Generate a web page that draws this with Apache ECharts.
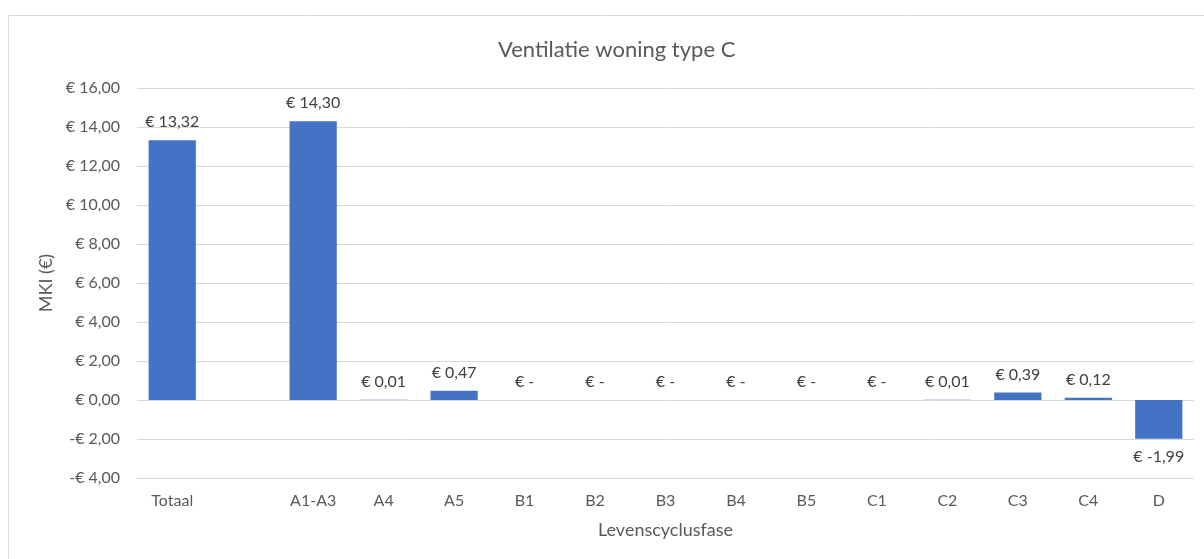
<!DOCTYPE html>
<html>
<head>
<meta charset="utf-8">
<script src="https://cdn.jsdelivr.net/npm/echarts@6/dist/echarts.min.js"></script>
<style>
  html, body { margin: 0; padding: 0; background: #fff; }
  #chart { width: 1204px; height: 559px; }
</style>
</head>
<body>
<div id="chart"></div>
<script>
// levenscyclusfasen (lege kolom tussen Totaal en A1-A3)
var categories = ['Totaal', '', 'A1-A3', 'A4', 'A5', 'B1', 'B2', 'B3', 'B4', 'B5', 'C1', 'C2', 'C3', 'C4', 'D'];
var mki = [13.32, null, 14.30, 0.01, 0.47, 0, 0, 0, 0, 0, 0, 0.01, 0.39, 0.12, -1.99];
var yTicks = [-4, -2, 0, 2, 4, 6, 8, 10, 12, 14, 16];

function euro(v) {
  return v.toFixed(2).replace('.', ',');
}

var chartDom = document.getElementById('chart');
var myChart = echarts.init(chartDom);
var option;

option = {
  backgroundColor: '#fff',
  animation: false,
  textStyle: { fontFamily: 'Lato' },
  graphic: [{
    type: 'rect',
    shape: { x: 8.5, y: 15.5, width: 1210, height: 560 },
    style: { fill: 'none', stroke: '#d9d9d9', lineWidth: 1 },
    silent: true
  }],
  title: {
    text: 'Ventilatie woning type C',
    left: 493,
    top: 34,
    textStyle: { color: '#595959', fontSize: 22, fontWeight: 'normal', fontFamily: 'Lato' }
  },
  grid: {
    top: 88,
    bottom: 81,
    left: 137,
    right: 10
  },
  xAxis: {
    type: 'category',
    data: categories,
    name: 'Levenscyclusfase',
    nameLocation: 'middle',
    nameGap: 43,
    nameTextStyle: { color: '#595959', fontSize: 18 },
    axisLine: { show: false },
    axisTick: { show: false },
    axisLabel: { color: '#595959', fontSize: 16, interval: 0, margin: 15 }
  },
  yAxis: {
    type: 'value',
    min: yTicks[0],
    max: yTicks[yTicks.length - 1],
    interval: 2,
    name: 'MKI (€)',
    nameLocation: 'middle',
    nameGap: 82,
    nameTextStyle: { color: '#595959', fontSize: 18 },
    axisLine: { show: false },
    axisTick: { show: false },
    splitLine: { lineStyle: { color: '#d9d9d9', width: 1 } },
    axisLabel: {
      color: '#595959',
      fontSize: 16,
      margin: 17,
      formatter: function (v) {
        return v < 0 ? '-€ ' + euro(-v) : '€ ' + euro(v);
      }
    }
  },
  series: [{
    type: 'bar',
    barWidth: '67%',
    itemStyle: { color: '#4472C4' },
    data: mki.map(function (v) {
      if (v === null) return '-';
      return {
        value: v,
        label: { position: v < 0 ? 'bottom' : 'top' }
      };
    }),
    label: {
      show: true,
      color: '#404040',
      fontSize: 16,
      distance: 10,
      formatter: function (p) {
        var v = p.value;
        if (v === 0) return '€ -';
        return '€ ' + euro(v);
      }
    }
  }]
};

option && myChart.setOption(option);
</script>
</body>
</html>
